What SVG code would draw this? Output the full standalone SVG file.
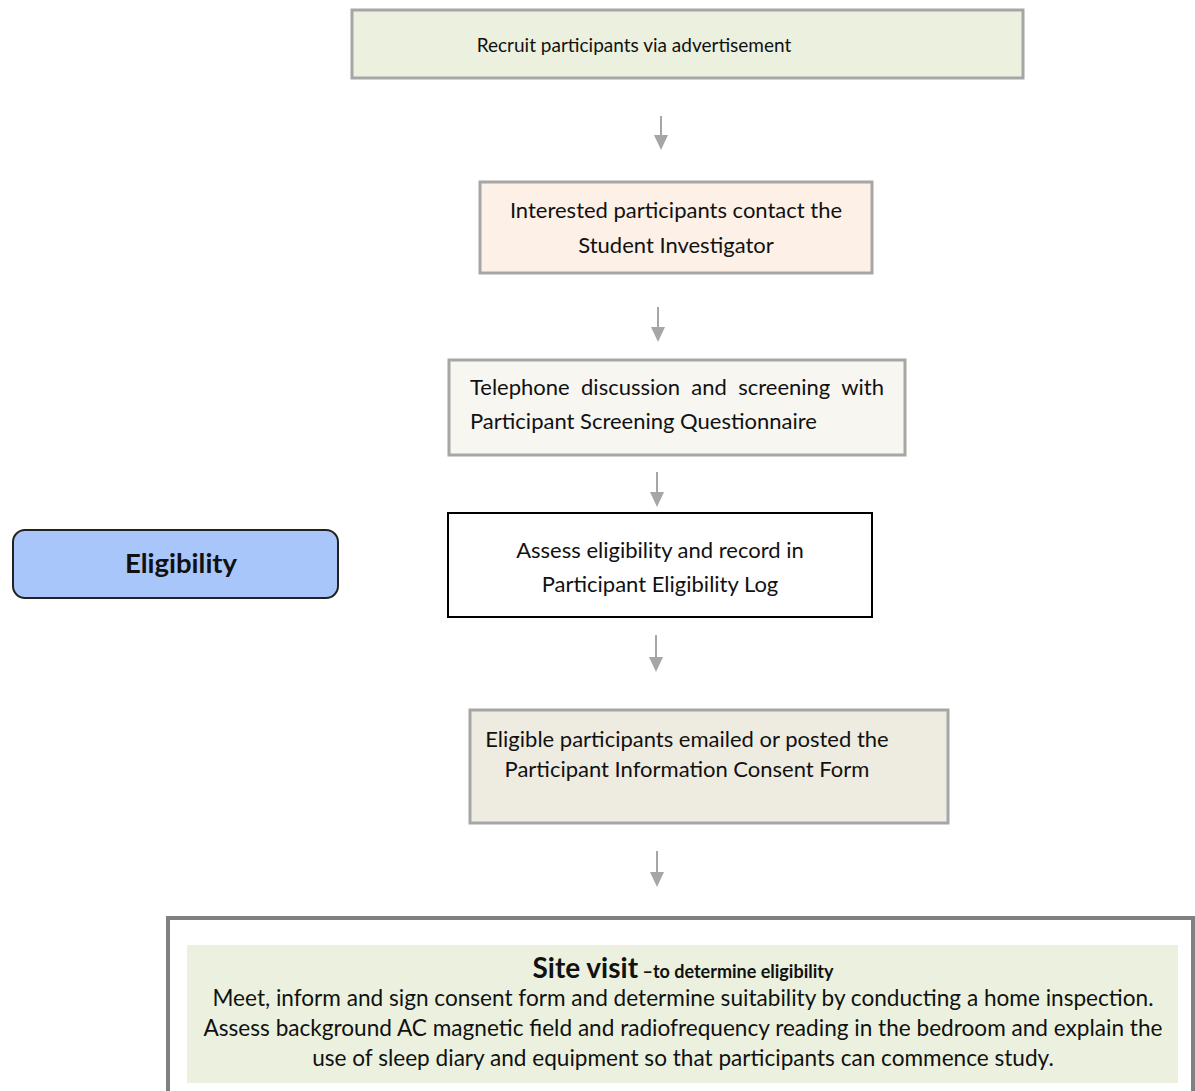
<svg xmlns="http://www.w3.org/2000/svg" width="1195" height="1091" viewBox="0 0 1195 1091">
<defs>
<style>
text{font-family:Lato,"Open Sans","Liberation Sans",sans-serif;fill:#111;}
.b{font-size:22px;}
.s{font-size:22.6px;}
.box{stroke:#a6a6a6;stroke-width:3;}
.arr{stroke:#a6a6a6;stroke-width:2;fill:none;}
.head{fill:#a6a6a6;}
</style>
</defs>
<rect width="1195" height="1091" fill="#fff"/>
<g id="connectors">
<line class="arr" x1="661" y1="116" x2="661" y2="136"/><path class="head" d="M654,135 L668,135 L661,150 Z"/>
<line class="arr" x1="658" y1="307" x2="658" y2="328"/><path class="head" d="M651,327 L665,327 L658,342 Z"/>
<line class="arr" x1="657" y1="472" x2="657" y2="493"/><path class="head" d="M650,492 L664,492 L657,507 Z"/>
<line class="arr" x1="656" y1="635" x2="656" y2="658"/><path class="head" d="M649,657 L663,657 L656,672 Z"/>
<line class="arr" x1="657" y1="851" x2="657" y2="873"/><path class="head" d="M650,872 L664,872 L657,887 Z"/>
</g>
<g id="n1">
<rect class="box" x="352" y="10" width="671" height="68" fill="#ebf1de"/>
<text x="634" y="52" text-anchor="middle" style="font-size:19px">Recruit participants via advertisement</text>
</g>
<g id="n2">
<rect class="box" x="480" y="182" width="392" height="91" fill="#fdf0e7"/>
<text class="b" x="676" y="218" text-anchor="middle">Interested participants contact the</text>
<text class="b" x="676" y="253" text-anchor="middle">Student Investigator</text>
</g>
<g id="n3">
<rect class="box" x="449" y="360" width="456" height="95" fill="#f7f6f1"/>
<text class="b" x="470" y="395" style="word-spacing:5.7px">Telephone discussion and screening with</text>
<text class="b" x="470" y="429">Participant Screening Questionnaire</text>
</g>
<g id="n4">
<rect x="448" y="513" width="424" height="104" fill="#fff" stroke="#000" stroke-width="2"/>
<text class="b" x="660" y="558" text-anchor="middle">Assess eligibility and record in</text>
<text class="b" x="660" y="592" text-anchor="middle">Participant Eligibility Log</text>
</g>
<g id="n-eligibility">
<rect x="13" y="530" width="325" height="68" rx="12" fill="#a9c6fa" stroke="#222" stroke-width="2"/>
<text x="181" y="573" text-anchor="middle" style="font-size:27.5px;font-weight:bold">Eligibility</text>
</g>
<g id="n5">
<rect class="box" x="470" y="710" width="478" height="113" fill="#eeece1"/>
<text class="b" x="687" y="747" text-anchor="middle">Eligible participants emailed or posted the</text>
<text class="b" x="687" y="777" text-anchor="middle">Participant Information Consent Form</text>
</g>
<g id="n6">
<rect x="168" y="918" width="1025" height="200" fill="#fff" stroke="#808080" stroke-width="4"/>
<rect x="187" y="945" width="991" height="138" fill="#ebf1de"/>
<text x="683" y="978" text-anchor="middle" style="font-weight:bold"><tspan style="font-size:28px">Site visit</tspan><tspan style="font-size:18px"> –to determine eligibility</tspan></text>
<text class="s" x="683" y="1006" text-anchor="middle">Meet, inform and sign consent form and determine suitability by conducting a home inspection.</text>
<text class="s" x="683" y="1036" text-anchor="middle">Assess background AC magnetic field and radiofrequency reading in the bedroom and explain the</text>
<text class="s" x="683" y="1066" text-anchor="middle">use of sleep diary and equipment so that participants can commence study.</text>
</g>
</svg>
